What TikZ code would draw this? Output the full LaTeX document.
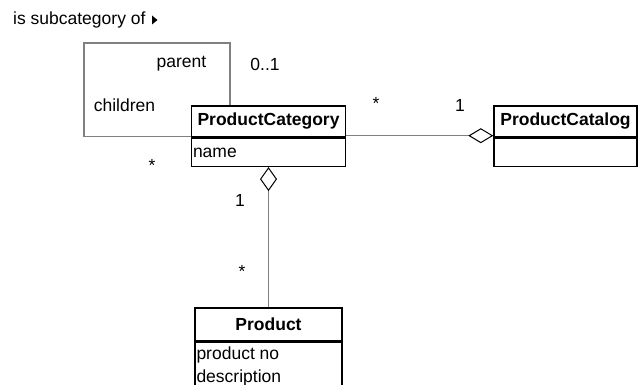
\documentclass[tikz,border=0pt]{standalone}
\usepackage{fontspec}
\setmainfont{Liberation Sans}
\usetikzlibrary{arrows.meta}
\tikzset{
  classhead/.style={draw=black, line width=1.4pt, fill=white, minimum height=31pt, inner sep=0pt, font=\fontsize{17.5}{22}\selectfont\bfseries},
  classbody/.style={draw=black, line width=1.4pt, fill=white, inner sep=0pt},
  attr/.style={inner sep=2pt, align=left, font=\fontsize{17.5}{23}\selectfont},
  assoc/.style={draw=black!50, line width=1.1pt},
  mult/.style={inner sep=0pt, font=\fontsize{17.5}{22}\selectfont},
}
\begin{document}
\begin{tikzpicture}[x=1pt, y=-1pt]
\useasboundingbox (0,0) rectangle (639,385);
\clip (0,0) rectangle (639,385);
\fill[white] (0,0) rectangle (639,385);

% association name with its reading direction
\node[mult, anchor=west] (assocname) at (13,20) {is subcategory of};
\fill[black] (152,15.5) -- (157.5,20) -- (152,24.5) -- cycle;

% coordinates for the self-association loop
\coordinate (loopA) at (84,43);
\coordinate (loopB) at (230,43);

% ProductCategory
\node[classhead, minimum width=154pt] (pch) at (268.5,121.5) {ProductCategory};
\node[classbody, minimum width=154pt, minimum height=28pt, anchor=north] (pcb) at (pch.south) {};
\node[attr, anchor=west] (pcname) at (pcb.west) {name};

% ProductCatalog
\node[classhead, minimum width=143pt] (cath) at (565.5,121.5) {ProductCatalog};
\node[classbody, minimum width=143pt, minimum height=28pt, anchor=north] (catb) at (cath.south) {};

% Product
\node[classhead, minimum width=147pt, minimum height=33pt] (ph) at (268.5,324.5) {Product};
\node[classbody, minimum width=147pt, minimum height=70pt, anchor=north] (pb) at (ph.south) {};
\node[attr, anchor=north west] (pattrs) at ([yshift=-2.5pt]pb.north west) {product no\\description};

% self-association: subcategory loop
\draw[assoc] ([yshift=1pt]pch.south west) -| (loopA) -| (pch.north -| loopB);

% catalog aggregates categories
\draw[assoc, -{Diamond[fill=white, color=black, length=25pt, width=15pt, line width=1pt]}]
  ([yshift=2pt]pch.south east) -- ([yshift=2pt]cath.south west);

% category aggregates products
\draw[assoc, {Diamond[fill=white, color=black, length=24pt, width=17pt, line width=1pt]}-]
  (pcb.south) -- (ph.north);

% role names and multiplicities
\node[mult] (rparent) at (181.5,64) {parent};
\node[mult] (mparent) at (265,64) {0..1};
\node[mult] (rchild) at (124.5,105) {children};
\node[mult] (mchild) at (152,165) {*};
\node[mult] (mcat) at (376,103) {*};
\node[mult] (mcatone) at (460,105) {1};
\node[mult] (mprodone) at (240,200) {1};
\node[mult] (mprod) at (242,271) {*};
\end{tikzpicture}
\end{document}
